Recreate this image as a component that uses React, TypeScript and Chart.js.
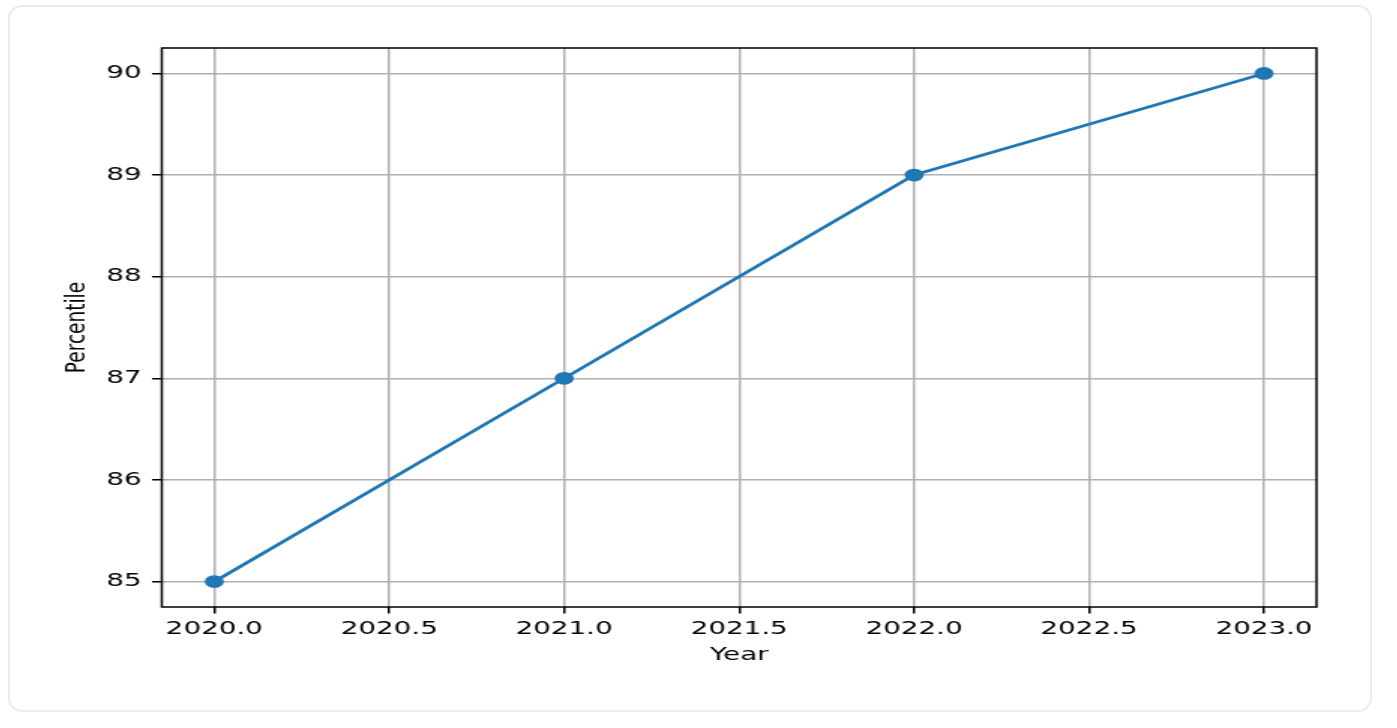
import React, { useEffect, useRef } from 'react';
import { Chart, registerables } from 'chart.js';

Chart.register(...registerables);

// chart data
const years = [2020, 2021, 2022, 2023];
const percentiles = [85, 87, 89, 90];

// axis ticks and limits (matplotlib style 5% margins)
const xTicks = [2020, 2020.5, 2021, 2021.5, 2022, 2022.5, 2023];
const yTicks = [85, 86, 87, 88, 89, 90];
const xLimits = [2019.85, 2023.15];
const yLimits = [84.75, 90.25];

const xLabel = 'Year';
const yLabel = 'Percentile';

// the reference image is stretched horizontally
const STRETCH = 1.5;
const FONT = { family: 'DejaVu Sans', size: 18.5, lineHeight: 1.2 };

// draws the black box around the plot area
const framePlugin = {
  id: 'frame',
  afterDatasetsDraw(chart: any) {
    const { ctx, chartArea: a } = chart;
    ctx.save();
    ctx.strokeStyle = '#000';
    ctx.lineWidth = 1.5;
    ctx.strokeRect(a.left, a.top, a.right - a.left, a.bottom - a.top);
    ctx.restore();
  },
};

export default function App() {
  const chartRef = useRef<HTMLCanvasElement>(null);
  const chartInstance = useRef<Chart | null>(null);

  useEffect(() => {
    if (!chartRef.current) return;
    if (chartInstance.current) chartInstance.current.destroy();

    const ctx = chartRef.current.getContext('2d');
    if (!ctx) return;

    chartInstance.current = new Chart(ctx, {
      type: 'line',
      data: {
        datasets: [
          {
            data: years.map((y, i) => ({ x: y, y: percentiles[i] })),
            borderColor: '#1f77b4',
            backgroundColor: '#1f77b4',
            borderWidth: 2.8,
            pointRadius: 5.6,
            pointBorderWidth: 1.6,
            pointBackgroundColor: '#1f77b4',
            pointBorderColor: '#1f77b4',
            tension: 0,
            fill: false,
          },
        ],
      },
      options: {
        animation: false,
        responsive: true,
        maintainAspectRatio: false,
        layout: { padding: { top: 43, right: 37, bottom: 0, left: 0 } },
        plugins: {
          legend: { display: false },
          tooltip: { enabled: false },
        },
        scales: {
          x: {
            type: 'linear',
            min: xLimits[0],
            max: xLimits[1],
            afterBuildTicks: (scale: any) => {
              scale.ticks = xTicks.map(value => ({ value }));
            },
            afterFit: (scale: any) => {
              scale.height = 105;
            },
            ticks: {
              font: FONT,
              color: '#000',
              padding: 4.5,
              maxRotation: 0,
              autoSkip: false,
              callback: (v: any) => Number(v).toFixed(1),
            },
            grid: {
              color: '#b0b0b0',
              lineWidth: 1.5,
              tickLength: 6.5,
              tickColor: '#000',
              tickWidth: 1.5,
            },
            border: { display: false },
            title: {
              display: true,
              text: xLabel,
              font: FONT,
              color: '#000',
              padding: { top: 0, bottom: 46 },
            },
          },
          y: {
            type: 'linear',
            min: yLimits[0],
            max: yLimits[1],
            afterBuildTicks: (scale: any) => {
              scale.ticks = yTicks.map(value => ({ value }));
            },
            afterFit: (scale: any) => {
              scale.width = 102.5;
            },
            ticks: {
              font: FONT,
              color: '#000',
              padding: 7,
              callback: (v: any) => String(v),
            },
            grid: {
              color: '#b0b0b0',
              lineWidth: 1.5,
              tickLength: 6.5,
              tickColor: '#000',
              tickWidth: 1.5,
            },
            border: { display: false },
            title: {
              display: true,
              text: yLabel,
              font: FONT,
              color: '#000',
              padding: { top: 35, bottom: 0 },
            },
          },
        },
      },
      plugins: [framePlugin],
    });

    return () => {
      if (chartInstance.current) {
        chartInstance.current.destroy();
        chartInstance.current = null;
      }
    };
  }, []);

  return (
    <div>
      <div
        style={{
          position: 'absolute',
          left: 8,
          top: 5,
          width: 1364,
          height: 707,
          boxSizing: 'border-box',
          border: '2px solid #ebebeb',
          borderRadius: 14,
          background: '#fff',
        }}
      />
      <div
        style={{
          position: 'absolute',
          left: 8,
          top: 5,
          width: 909,
          height: 707,
          transform: `scaleX(${1364 / 909})`,
          transformOrigin: '0 0',
        }}
      >
        <canvas ref={chartRef}></canvas>
      </div>
    </div>
  );
}
